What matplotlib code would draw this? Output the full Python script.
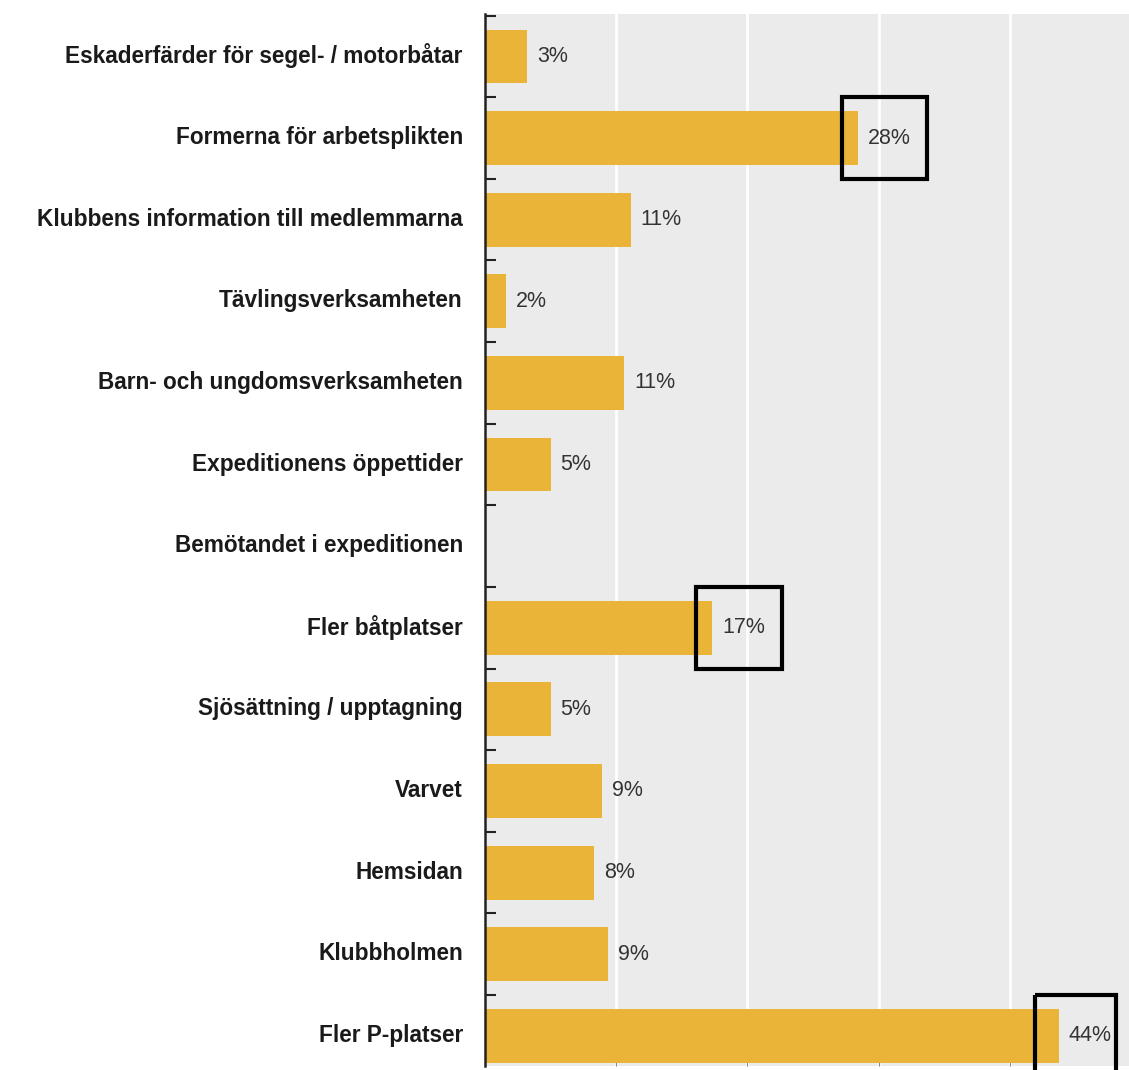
import numpy as np
import matplotlib
matplotlib.use("Agg")
import matplotlib.pyplot as plt
import matplotlib.transforms as mtransforms
from matplotlib.patches import Rectangle

# data (percent)
categories = [
    "Eskaderfärder för segel- / motorbåtar",
    "Formerna för arbetsplikten",
    "Klubbens information till medlemmarna",
    "Tävlingsverksamheten",
    "Barn- och ungdomsverksamheten",
    "Expeditionens öppettider",
    "Bemötandet i expeditionen",
    "Fler båtplatser",
    "Sjösättning / upptagning",
    "Varvet",
    "Hemsidan",
    "Klubbholmen",
    "Fler P-platser",
]
values = [3.2, 28.4, 11.1, 1.6, 10.6, 5.0, 0.0, 17.3, 5.0, 8.9, 8.3, 9.4, 43.7]
highlighted = ["Formerna för arbetsplikten", "Fler båtplatser", "Fler P-platser"]

plt.rcParams['font.family'] = ['Liberation Sans', 'DejaVu Sans']

fig = plt.figure(figsize=(11.29, 10.70), dpi=100)
ax = fig.add_axes([485 / 1129, 4 / 1070, 1 - 485 / 1129, 1052 / 1070])
ax.set_facecolor('#ebebeb')

xmax = 49.07

y = np.arange(len(categories))
ax.barh(y, values, height=0.66, color='#e9b437', zorder=2)

# value labels
for i, v in enumerate(values):
    if v > 0:
        ax.text(v + 0.75, i, f"{round(v)}%", va='center', ha='left',
                fontsize=15.5, color='#333333', zorder=3)

# black boxes around some labels
for i, c in enumerate(categories):
    if c in highlighted:
        v = values[i]
        right = min(v + 5.3, xmax - 1.0)
        left = min(v - 1.2, right - 6.2)
        ax.add_patch(Rectangle((left, i - 0.5), right - left, 1.0, fill=False,
                               edgecolor='black', linewidth=3, zorder=4,
                               clip_on=False))

ax.set_xticks([10, 20, 30, 40])
ax.set_xticklabels([])
ax.grid(axis='x', color='white', linewidth=2, zorder=1)
ax.tick_params(axis='x', direction='in', length=5, color='#888888')

ax.set_yticks(y)
ax.set_yticklabels(categories, fontsize=16.3, fontweight='bold', color='#1a1a1a')
ax.set_yticks(np.arange(-0.5, len(categories), 1.0), minor=True)
ax.tick_params(axis='y', which='major', length=0, pad=16)
ax.tick_params(axis='y', which='minor', direction='in', length=8, width=1.5,
               color='#222222')

# nudge category labels up a little
shift = mtransforms.ScaledTranslation(0, 3 / 100, fig.dpi_scale_trans)
for lab in ax.get_yticklabels():
    lab.set_transform(lab.get_transform() + shift)

# limits after the ticks, otherwise set_yticks widens them
ax.set_xlim(0, xmax)
ax.set_ylim(12.37, -0.52)

for s in ['top', 'right', 'bottom']:
    ax.spines[s].set_visible(False)
ax.spines['left'].set_linewidth(1.8)
ax.spines['left'].set_color('#222222')

fig.savefig('out.png', dpi=100)
